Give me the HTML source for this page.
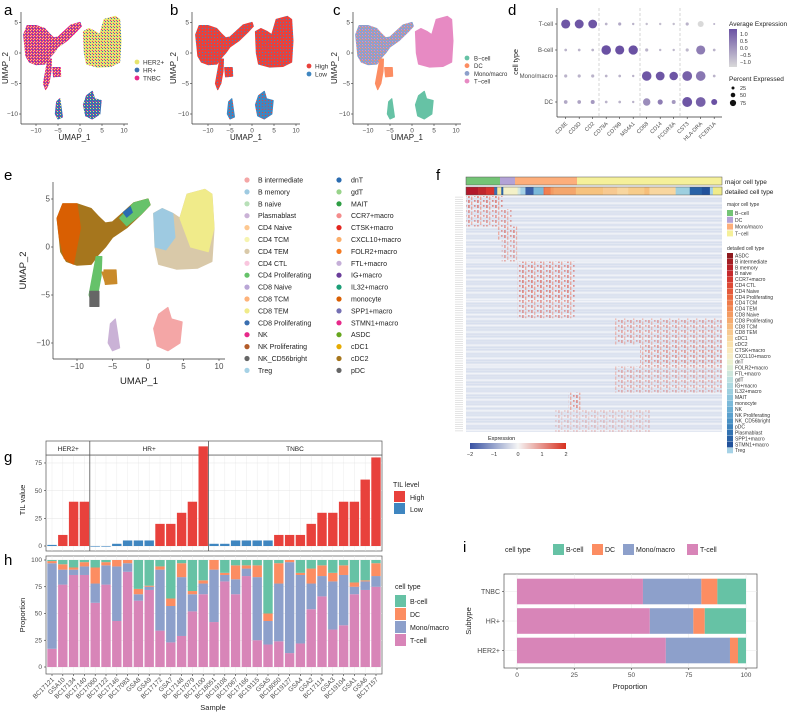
<!DOCTYPE html>
<html><head><meta charset="utf-8"><style>
html,body{margin:0;padding:0;background:#fff;}
svg{display:block;font-family:"Liberation Sans",Arial,sans-serif;}
</style></head><body>
<svg id="fig" width="790" height="716" viewBox="0 0 790 716" xmlns="http://www.w3.org/2000/svg">
<defs>
<pattern id="pA1" width="3" height="3" patternUnits="userSpaceOnUse"><rect width="3" height="3" fill="#e7298a"/><rect x="0" y="0" width="1" height="1" fill="#e6e46e"/><rect x="2" y="1" width="1" height="1" fill="#3a6fb0"/><rect x="1" y="2" width="1" height="1" fill="#e6e46e"/></pattern>
<pattern id="pA2" width="3" height="3" patternUnits="userSpaceOnUse"><rect width="3" height="3" fill="#e6e46e"/><rect x="0" y="0" width="1" height="1" fill="#3a6fb0"/><rect x="2" y="2" width="1" height="1" fill="#e7298a"/></pattern>
<pattern id="pA3" width="3" height="3" patternUnits="userSpaceOnUse"><rect width="3" height="3" fill="#3a6fb0"/><rect x="0" y="0" width="1" height="1" fill="#e6e46e"/><rect x="2" y="2" width="1" height="1" fill="#e7298a"/></pattern>
<pattern id="pB1" width="3" height="3" patternUnits="userSpaceOnUse"><rect width="3" height="3" fill="#e8413c"/><rect x="1" y="1" width="1" height="1" fill="#3f86c0"/></pattern>
<pattern id="pB2" width="3" height="3" patternUnits="userSpaceOnUse"><rect width="3" height="3" fill="#3f86c0"/><rect x="1" y="1" width="1" height="1" fill="#e8413c"/></pattern>
<pattern id="pC1" width="3" height="3" patternUnits="userSpaceOnUse"><rect width="3" height="3" fill="#8da0cb"/><rect x="0" y="0" width="1" height="1" fill="#fc8d62"/><rect x="2" y="2" width="1" height="1" fill="#e78ac3"/></pattern>
<pattern id="hmRed" width="9" height="5" patternUnits="userSpaceOnUse"><rect x="0.5" y="0" width="0.9" height="3" fill="#d7301f"/><rect x="3.5" y="1.5" width="0.7" height="3.5" fill="#ef6548"/><rect x="6.5" y="0" width="0.8" height="1.8" fill="#d7301f"/></pattern>
<linearGradient id="gradAvg" x1="0" y1="1" x2="0" y2="0"><stop offset="0" stop-color="#d9d9d9"/><stop offset="1" stop-color="#6a51a3"/></linearGradient>
<linearGradient id="gradExp" x1="0" y1="0" x2="1" y2="0"><stop offset="0" stop-color="#3953a4"/><stop offset="0.5" stop-color="#f5f5f5"/><stop offset="1" stop-color="#d7301f"/></linearGradient>
</defs>
</svg>
<script>
// ---------------- DATA ----------------
const samples = ["BC17121","GSA10","BC17134","BC17140","BC17060","BC17122","BC17146","BC17083","GSA8","GSA9","BC17172","GSA7","BC17148","BC17079","BC17100","BC18051","BC19108","BC17067","BC17166","BC19115","GSA5","BC18050","BC19127","GSA4","GSA2","BC17114","GSA3","BC19104","GSA1","GSA6","BC17157"];
const tilValues = [1,10,40,40, 0,0,2,5,5,5,20,20,30,40,90, 2,2,5,5,5,5,10,10,10,20,30,30,40,40,60,80];
const tilLevel = ["Low","High","High","High","Low","Low","Low","Low","Low","Low","High","High","High","High","High","Low","Low","Low","Low","Low","Low","High","High","High","High","High","High","High","High","High","High"];
const subtypeGroups = ["HER2+","HR+","TNBC"];
const subtypeCounts = [4,11,16];
const tilTicks = [0,25,50,75];
const propTCell = [17,77,86,86,60,77,43,89,62,72,34,23,29,52,68,42,80,68,85,25,21,24,13,22,54,66,35,39,68,72,75];
const propMono  = [80,14,5,8,18,18,51,8,6,3,57,34,55,16,10,49,6,14,7,59,22,54,85,64,24,19,45,47,7,8,10];
const propDC    = [2,5,2,4,15,3,6,3,5,1,3,7,13,3,3,9,2,13,3,11,7,19,2,2,14,10,8,9,4,1,12];
const propBCell = [1,4,7,2,7,2,0,0,27,24,6,36,3,29,19,0,12,5,5,5,50,3,0,12,8,5,12,5,21,19,3];
const propTicks = [0,25,50,75,100];
const subtypeNames = ["TNBC","HR+","HER2+"];
const subT = [55,58,65];
const subMono = [25.5,19,28];
const subDC = [7,5,3.5];
const subB = [12.5,18,3.5];
const dotGenes = ["CD3E","CD3D","CD2","CD79A","CD79B","MS4A1","CD68","CD14","FCGR3A","CST3","HLA-DRA","FCER1A"];
const dotTypes = ["T-cell","B-cell","Mono/macro","DC"];
const dotPctT = [80,78,75,3,5,2,2,2,2,5,30,1];
const dotPctB = [3,3,3,90,80,85,5,2,2,5,80,3];
const dotPctM = [5,5,5,3,3,2,90,75,70,95,92,3];
const dotPctD = [8,8,10,3,3,2,50,20,10,98,95,30];
const dotAvgT = [1.2,1.2,1.2,-0.5,-0.3,-0.5,-0.7,-0.7,-0.7,-0.5,-1.2,-0.5];
const dotAvgB = [-0.5,-0.5,-0.5,1.3,1.3,1.3,-0.5,-0.6,-0.6,-0.6,0.5,-0.5];
const dotAvgM = [-0.5,-0.5,-0.5,-0.5,-0.5,-0.5,1.2,1.2,1.2,1.0,0.6,-0.5];
const dotAvgD = [-0.3,-0.2,0,-0.5,-0.5,-0.5,0.2,0.5,0,1.2,1.0,1.3];
const eNames1 = ["B intermediate","B memory","B naive","Plasmablast","CD4 Naive","CD4 TCM","CD4 TEM","CD4 CTL","CD4 Proliferating","CD8 Naive","CD8 TCM","CD8 TEM","CD8 Proliferating","NK","NK Proliferating","NK_CD56bright","Treg"];
const eCols1 = ["#f4a6a6","#9ecae1","#b8e0b8","#cab2d6","#fdc891","#f6f4b0","#d9c9a9","#f9c6de","#66c26a","#b9a6d6","#fdb27a","#f0eb8a","#3a6fb0","#e7298a","#b35c2a","#666666","#a6d2e6"];
const eNames2 = ["dnT","gdT","MAIT","CCR7+macro","CTSK+macro","CXCL10+macro","FOLR2+macro","FTL+macro","IG+macro","IL32+macro","monocyte","SPP1+macro","STMN1+macro","ASDC","cDC1","cDC2","pDC"];
const eCols2 = ["#2b6cb0","#98d38a","#2e9e44","#f48c8c","#e3261f","#fbad6a","#f47a22","#c5afd8","#6a3d9a","#1b9e77","#d95f02","#7570b3","#e7298a","#66a61e","#e6ab02","#a6761d","#666666"];
const majorNames = ["B\u2212cell","DC","Mono/macro","T\u2212cell"];
const majorCols = ["#74c476","#b3a2d6","#fdae7b","#f5f09a"];
const majorWidths = [34,15,62,145];
const detNames = ["ASDC","B intermediate","B memory","B naive","CCR7+macro","CD4 CTL","CD4 Naive","CD4 Proliferating","CD4 TCM","CD4 TEM","CD8 Naive","CD8 Proliferating","CD8 TCM","CD8 TEM","cDC1","cDC2","CTSK+macro","CXCL10+macro","dnT","FOLR2+macro","FTL+macro","gdT","IG+macro","IL32+macro","MAIT","monocyte","NK","NK Proliferating","NK_CD56bright","pDC","Plasmablast","SPP1+macro","STMN1+macro","Treg"];
const detCols = ["#8e1a1f","#a51e24","#b8232a","#c62a2d","#d43a32","#dd4a36","#e45a3c","#ea6a42","#ee7b4a","#f18b55","#f39b62","#f5ab70","#f6bb80","#f7c991","#f8d69f","#f9e1ae","#f9e9bc","#f5edc8","#eaf0d0","#dcecd6","#cde6dc","#bde0e0","#add8e0","#9dcfdf","#8cc5dd","#7bb9d9","#6aaed4","#5aa0cd","#4b92c5","#3e83bc","#3373b2","#2a63a7","#22529b","#a6d2e6"];
const detWidths = [12,8,8,3,4,2,14,1,2,5,8,10,1,6,3,22,27,14,11,16,5,26,14,12,8,3,9];
const detBarCols = ["#b2182b","#c0272d","#d6332f","#3a6fb0","#f6e8a0","#2a63a7","#f4f1c8","#dcecd6","#cfe6e6","#a6d2e6","#3a5fa8","#7bb9d9","#ef6548","#f1804f","#f39b62","#f4a66c","#f6c27e","#f7c991","#f8d69f","#f7cc8a","#f6be7a","#f8d69f","#9dcfdf","#2a63a7","#22529b","#a6d2e6","#f0eb8a"];
const hmBlockRows = [6,8,6,10,8,10,8,12,10,12,8,10];
const hmBlockStart = [0,0,0.12,0.14,0.2,0.2,0.2,0.58,0.68,0.58,0.4,0.35];
const hmBlockEnd   = [0.15,0.18,0.2,0.2,0.43,0.43,0.43,1.0,1.0,1.0,0.45,0.72];
const hmBlockStrength = [1,0.8,0.9,0.7,0.9,1,0.8,0.7,0.8,0.6,0.9,0.4];

// ---------------- HELPERS ----------------
const NS = "http://www.w3.org/2000/svg";
const svg = document.getElementById("fig");
function mk(tag, attrs, parent){ const e = document.createElementNS(NS, tag); for (const k in attrs) e.setAttribute(k, attrs[k]); (parent||svg).appendChild(e); return e; }
function tx(x, y, s, size, anchor, fill, rot, parent){
  const t = mk("text", {x:x, y:y, "font-size":size, "text-anchor":anchor||"start", fill:fill||"#4d4d4d"}, parent);
  if (rot) t.setAttribute("transform", "rotate(" + rot + " " + x + " " + y + ")");
  t.textContent = s; return t;
}
function grp(name){ const g = mk("g", {});   return g; }
function line(x1,y1,x2,y2,stroke,w,parent,dash){ const l = mk("line",{x1:x1,y1:y1,x2:x2,y2:y2,stroke:stroke,"stroke-width":w||0.6},parent); if(dash) l.setAttribute("stroke-dasharray",dash); return l; }

const letters = [["a",4,15],["b",170,15],["c",333,15],["d",508,15],["e",4,180],["f",436,180],["g",4,462],["h",4,565],["i",463,552]];
letters.forEach(L => {
  const t = tx(L[1], L[2], L[0], 15, "start", "#000");
  
  
});

// ---------------- UMAP ----------------
const shapeLeft = [[-12.5,1],[-12.8,3],[-12,4.5],[-10,4.5],[-8,4],[-7,3.2],[-6,2.5],[-5,2.6],[-3.5,3.6],[-2,4.6],[0,5],[0.3,4.4],[-1,3.4],[-3,2],[-5,1],[-6,0],[-7,-0.8],[-8,-1.8],[-10,-1.9],[-11.5,-1.5],[-12.3,-0.5]];
const shapeTail = [[-7.3,-1],[-6.5,-1],[-6.6,-3],[-7.1,-5],[-7.8,-6],[-8.3,-5],[-7.8,-3]];
const shapeSmall = [[-6.2,-2.4],[-4.5,-2.4],[-4.4,-3.8],[-6,-3.9]];
const shapeRight = [[0.8,3.5],[1,0],[1.5,-1.8],[4,-2.3],[7,-2.2],[9,-1.5],[9.3,2],[9,5.5],[8,6],[5.5,5.5],[4.5,3],[3.5,3.5],[2,4]];
const shapeSB = [[-5.3,-8],[-4.6,-7.5],[-4.3,-9],[-4,-10.5],[-5,-10.8],[-5.6,-10]];
const shapeBot = [[1.5,-7],[2.8,-6.3],[3.3,-7.5],[4.8,-7.8],[4.5,-10],[2.8,-10.8],[1.3,-10.3],[0.8,-8.5]];
const shapes = [shapeLeft, shapeTail, shapeSmall, shapeRight, shapeSB, shapeBot];
const shapeNames = ["left-cluster","tail-cluster","small-cluster","right-cluster","small-bottom-cluster","bottom-cluster"];

function umap(g, x0, y0, sx, sy, axL, axR, axT, axB, fills, fs, titleY, ytitleX){
  const X = v => x0 + v*sx, Y = v => y0 - v*sy;
  shapes.forEach((s,i) => {
    const p = mk("polygon", {points: s.map(q => X(q[0]).toFixed(1)+","+Y(q[1]).toFixed(1)).join(" "), fill: fills[i], stroke: fills[i], "stroke-width": 1.2, "stroke-linejoin":"round"}, g);
    
    
  });
  line(axL, axT, axL, axB, "#333", 0.7, g); line(axL, axB, axR, axB, "#333", 0.7, g);
  [-10,-5,0,5,10].forEach(v => { line(X(v), axB, X(v), axB+2, "#333", 0.6, g); tx(X(v), axB+fs+2, (v<0?"\u2212":"")+Math.abs(v), fs, "middle", "#4d4d4d", 0, g); });
  [5,0,-5,-10].forEach(v => { line(axL-2, Y(v), axL, Y(v), "#333", 0.6, g); tx(axL-3, Y(v)+fs/3, (v<0?"\u2212":"")+Math.abs(v), fs, "end", "#4d4d4d", 0, g); });
  const t1 = tx((axL+axR)/2, titleY, "UMAP_1", fs+1.5, "middle", "#222", 0, g);
  
  
  const t2 = tx(ytitleX, (axT+axB)/2, "UMAP_2", fs+1.5, "middle", "#222", -90, g);
  
  
}
const gA = grp("umap-subtype-panel");
umap(gA, 80, 53, 4.4, 6.1, 21, 128, 12, 124, ["url(#pA1)","url(#pA1)","url(#pA1)","url(#pA2)","url(#pA3)","url(#pA3)"], 6.5, 140, 8);
[["HER2+","#e6e46e"],["HR+","#3a6fb0"],["TNBC","#e7298a"]].forEach((L,i) => {
  mk("circle",{cx:137,cy:62+i*8,r:2.4,fill:L[1]},gA); tx(143,64.5+i*8,L[0],6.5,"start","#333",0,gA);
});
const gB = grp("umap-til-panel");
umap(gB, 252, 53, 4.4, 6.1, 192, 300, 12, 124, ["url(#pB1)","url(#pB1)","url(#pB1)","url(#pB1)","url(#pB2)","url(#pB2)"], 6.5, 140, 176);
[["High","#e8413c"],["Low","#3f86c0"]].forEach((L,i) => {
  mk("circle",{cx:309,cy:66+i*8,r:2.4,fill:L[1]},gB); tx(315,68.5+i*8,L[0],6.5,"start","#333",0,gB);
});
const gC = grp("umap-major-celltype-panel");
umap(gC, 412, 53, 4.4, 6.1, 353, 461, 12, 124, ["url(#pC1)","#fc8d62","#fc8d62","#e78ac3","#66c2a5","#66c2a5"], 6.5, 140, 337);
majorNames.forEach((n,i) => {
  mk("circle",{cx:467,cy:58+i*7.7,r:2.4,fill:["#66c2a5","#fc8d62","#8da0cb","#e78ac3"][i]},gC); tx(474,60.5+i*7.7,n,6,"start","#333",0,gC);
});

// ---------------- DOT PLOT (d) ----------------
const gD = grp("dotplot-panel");
const dx0 = 565.7, dstep = 13.5, dRows = [24,50,76,102];
const DX = i => dx0 + i*dstep;
line(557,8,557,117,"#333",0.7,gD); line(557,117,722,117,"#333",0.7,gD);
[599,640,680].forEach(x => line(x,8,x,117,"#bbb",0.6,gD,"3,2"));
const pctRows = [dotPctT,dotPctB,dotPctM,dotPctD], avgRows = [dotAvgT,dotAvgB,dotAvgM,dotAvgD];
function avgCol(v){ const t = Math.max(0, Math.min(1, (v+1.2)/2.5)); const a=[217,217,217], b=[106,81,163]; return "rgb("+a.map((c,k)=>Math.round(c+(b[k]-c)*t)).join(",")+")"; }
dotTypes.forEach((ct,r) => {
  tx(553, dRows[r]+2.2, ct, 6, "end", "#4d4d4d", 0, gD); line(555,dRows[r],557,dRows[r],"#333",0.6,gD);
  dotGenes.forEach((gname,c) => {
    const d = mk("circle",{cx:DX(c),cy:dRows[r],r:(0.6+Math.sqrt(pctRows[r][c]/100)*4.4).toFixed(2),fill:avgCol(avgRows[r][c])},gD);
    
    
  });
});
dotGenes.forEach((gname,c) => { line(DX(c),117,DX(c),119,"#333",0.6,gD); tx(DX(c)+2, 124, gname, 5.5, "end", "#4d4d4d", -45, gD); });
tx(518, 62, "cell type", 7, "middle", "#222", -90, gD);
tx(729, 26, "Average Expression", 6.5, "start", "#222", 0, gD);
mk("rect",{x:729,y:29,width:8,height:38,fill:"url(#gradAvg)"},gD);
[["1.0",36],["0.5",43],["0.0",50],["\u22120.5",57],["\u22121.0",64]].forEach(L => tx(740, L[1], L[0], 5.5, "start", "#333", 0, gD));
tx(729, 81, "Percent Expressed", 6.5, "start", "#222", 0, gD);
[["25",88,1.5],["50",95,2.3],["75",103,3.1]].forEach(L => { mk("circle",{cx:733,cy:L[1],r:L[2],fill:"#111"},gD); tx(740, L[1]+2, L[0], 5.5, "start", "#333", 0, gD); });

// ---------------- UMAP detailed (e) ----------------
const gE = grp("umap-detailed-celltype-panel");
umap(gE, 148, 247, 7.1, 9.6, 53, 225, 182, 359, ["#a6761d","#66c26a","#c98a2a","#d9c9a9","#cab2d6","#f4a6a6"], 8, 384, 26);
{ const X = v => 148 + v*7.1, Y = v => 247 - v*9.6;
  const extras = [
    {pts:[[-12.5,1],[-12.8,3],[-12,4.5],[-10,4.5],[-9.5,2],[-10.5,-1.8],[-11.8,-1.2]], c:"#d95f02"},
    {pts:[[-4,3],[-2,4.6],[0,5],[0.3,4.4],[-1,3.4],[-3,2.2]], c:"#66c26a"},
    {pts:[[-3.5,3.6],[-2.5,4.2],[-2.2,3.6],[-3,3.1]], c:"#2b6cb0"},
    {pts:[[5.5,5.5],[8,6],[9,5.5],[9.3,2],[8.5,-0.5],[6,0],[4.5,3]], c:"#f0eb8a"},
    {pts:[[0.8,3.5],[2,4],[3.5,3.5],[3.8,1],[2.5,-0.3],[1,0]], c:"#9ecae1"},
    {pts:[[-8.2,-4.6],[-6.9,-4.6],[-6.9,-6.2],[-8.2,-6.2]], c:"#666666"},
    {pts:[[-6.5,-2.6],[-5,-2.6],[-4.6,-3.7],[-6,-3.8]], c:"#c98a2a"}
  ];
  extras.forEach(e => { const p = mk("polygon",{points:e.pts.map(q=>X(q[0]).toFixed(1)+","+Y(q[1]).toFixed(1)).join(" "),fill:e.c,stroke:e.c,"stroke-width":1,"stroke-linejoin":"round"},gE);
    
     });
}
eNames1.forEach((n,i) => { mk("circle",{cx:247,cy:180+i*11.9,r:2.6,fill:eCols1[i]},gE); tx(258,182.5+i*11.9,n,7,"start","#222",0,gE); });
eNames2.forEach((n,i) => { mk("circle",{cx:339,cy:180+i*11.9,r:2.6,fill:eCols2[i]},gE); tx(351,182.5+i*11.9,n,7,"start","#222",0,gE); });

// ---------------- HEATMAP (f) ----------------
const gF = grp("heatmap-panel");
const hx0 = 466, hx1 = 722, hy0 = 196, hy1 = 432;
let cx = hx0;
majorWidths.forEach((w,i) => { const r = mk("rect",{x:cx,y:177,width:w,height:8,fill:majorCols[i]},gF);
  
   cx += w; });
mk("rect",{x:hx0,y:177,width:hx1-hx0,height:8,fill:"none",stroke:"#555","stroke-width":0.5},gF);
const detTotal = detWidths.reduce((a,b)=>a+b,0);
cx = hx0;
detWidths.forEach((w,i) => { const ww = w/detTotal*(hx1-hx0); mk("rect",{x:cx,y:187,width:ww+0.3,height:8,fill:detBarCols[i]},gF); cx += ww; });
mk("rect",{x:hx0,y:187,width:hx1-hx0,height:8,fill:"none",stroke:"#555","stroke-width":0.5},gF);
tx(725,184,"major cell type",6.5,"start","#222",0,gF); tx(725,194,"detailed cell type",6.5,"start","#222",0,gF);
const totalRows = hmBlockRows.reduce((a,b)=>a+b,0);
const rowH = (hy1-hy0)/totalRows;
let ry = hy0;
mk("rect",{x:hx0,y:hy0,width:hx1-hx0,height:hy1-hy0,fill:"#e3e8f2"},gF);
hmBlockRows.forEach((n,b) => {
  for (let k=0;k<n;k++){ const y = ry + k*rowH;
    mk("rect",{x:hx0,y:y,width:hx1-hx0,height:rowH*0.55,fill:(k%3===0)?"#f4f5f9":"#d4dcec",opacity:0.8},gF);
    line(455, y+rowH/2, 463, y+rowH/2, "#bbb", 0.4, gF);
  }
  const r = mk("rect",{x:hx0+hmBlockStart[b]*(hx1-hx0), y:ry, width:(hmBlockEnd[b]-hmBlockStart[b])*(hx1-hx0), height:n*rowH, fill:"url(#hmRed)", opacity:hmBlockStrength[b]},gF);
  
  
  ry += n*rowH;
});
tx(727,206,"major cell type",5,"start","#333",0,gF);
majorNames.forEach((n,i) => { mk("rect",{x:727,y:210+i*6.8,width:6,height:6,fill:majorCols[i]},gF); tx(735,215+i*6.8,n,5,"start","#333",0,gF); });
tx(727,250,"detailed cell type",5,"start","#333",0,gF);
detNames.forEach((n,i) => { mk("rect",{x:727,y:253+i*5.9,width:6,height:5.6,fill:detCols[i]},gF); tx(735,257.5+i*5.9,n,5,"start","#333",0,gF); });
tx(488,440,"Expression",5.5,"start","#222",0,gF);
mk("rect",{x:470,y:443,width:96,height:6,fill:"url(#gradExp)"},gF);
[["\u22122",470],["\u22121",494],["0",518],["1",542],["2",566]].forEach(L => tx(L[1],456,L[0],5.5,"middle","#333",0,gF));

// ---------------- TIL BAR (g) ----------------
const gG = grp("til-bar-panel");
const gx0 = 52, gstep = 10.8, bw = 9.4;
const GX = i => gx0 + i*gstep;
const GY = v => 546 - v*1.107;
mk("rect",{x:46,y:455,width:336,height:96,fill:"#fff",stroke:"#555","stroke-width":0.7},gG);
samples.forEach((s,i) => line(GX(i),455,GX(i),551,"#ececec",0.5,gG));
tilTicks.forEach(v => { line(46,GY(v),382,GY(v),"#e4e4e4",0.5,gG); line(44,GY(v),46,GY(v),"#333",0.6,gG); tx(42,GY(v)+2.2,String(v),6.5,"end","#4d4d4d",0,gG); });
mk("rect",{x:46,y:441,width:336,height:14,fill:"#fff",stroke:"#555","stroke-width":0.7},gG);
let acc = 0;
subtypeGroups.forEach((s,k) => {
  const a = acc, b = acc + subtypeCounts[k] - 1;
  const xm = (GX(a)+GX(b))/2;
  tx(xm, 451, s, 6.5, "middle", "#222", 0, gG);
  if (k>0){ const xl = GX(a)-gstep/2; line(xl,441,xl,551,"#555",0.8,gG); }
  acc += subtypeCounts[k];
});
tilValues.forEach((v,i) => {
  const r = mk("rect",{x:GX(i)-bw/2,y:GY(v),width:bw,height:Math.max(0.6,GY(0)-GY(v)),fill:tilLevel[i]==="High"?"#e8413c":"#3f86c0"},gG);
  
  
});
tx(25,500,"TIL value",7.5,"middle","#222",-90,gG);
tx(393,487,"TIL level",7,"start","#222",0,gG);
mk("rect",{x:394,y:491,width:11,height:11,fill:"#e8413c"},gG); tx(410,500,"High",7,"start","#222",0,gG);
mk("rect",{x:394,y:503,width:11,height:11,fill:"#3f86c0"},gG); tx(410,512,"Low",7,"start","#222",0,gG);

// ---------------- PROPORTION BAR (h) ----------------
const gH = grp("proportion-bar-panel");
const HY = v => 667 - v*1.07;
mk("rect",{x:46,y:556,width:336,height:118,fill:"#fff",stroke:"#555","stroke-width":0.7},gH);
samples.forEach((s,i) => line(GX(i),556,GX(i),674,"#ececec",0.5,gH));
propTicks.forEach(v => { line(46,HY(v),382,HY(v),"#e4e4e4",0.5,gH); line(44,HY(v),46,HY(v),"#333",0.6,gH); tx(42,HY(v)+2.2,String(v),6.5,"end","#4d4d4d",0,gH); });
const stackSeries = [propTCell, propMono, propDC, propBCell];
const stackCols = ["#d885b8","#8da0cb","#fc8d62","#66c2a5"];
const stackNames = ["T-cell","Mono-macro","DC","B-cell"];
samples.forEach((s,i) => {
  let base = 0;
  const tot = propTCell[i]+propMono[i]+propDC[i]+propBCell[i];
  stackSeries.forEach((ser,k) => {
    const v = ser[i]*100/tot;
    const r = mk("rect",{x:GX(i)-bw/2,y:HY(base+v),width:bw,height:HY(base)-HY(base+v),fill:stackCols[k]},gH);
    
    
    base += v;
  });
  line(GX(i),674,GX(i),676,"#333",0.6,gH);
  tx(GX(i)+2.5, 680, s, 6.5, "end", "#4d4d4d", -45, gH);
});
tx(25,615,"Proportion",7.5,"middle","#222",-90,gH);
tx(213,710,"Sample",7.5,"middle","#222",0,gH);
tx(395,589,"cell type",7,"start","#222",0,gH);
["B-cell","DC","Mono/macro","T-cell"].forEach((n,i) => { mk("rect",{x:395,y:595+i*13,width:11,height:12,fill:["#66c2a5","#fc8d62","#8da0cb","#d885b8"][i]},gH); tx(410,604+i*13,n,7,"start","#222",0,gH); });

// ---------------- SUBTYPE BAR (i) ----------------
const gI = grp("subtype-proportion-panel");
const IX = v => 517 + v*2.29;
const iRows = [591.5,621,650.5];
mk("rect",{x:504,y:574,width:253,height:94,fill:"#fff",stroke:"#555","stroke-width":0.7},gI);
[0,25,50,75,100].forEach(v => { line(IX(v),574,IX(v),668,"#e8e8e8",0.5,gI); line(IX(v),668,IX(v),670,"#333",0.6,gI); tx(IX(v),677,String(v),6.5,"middle","#4d4d4d",0,gI); });
iRows.forEach(y => line(504,y,757,y,"#e8e8e8",0.5,gI));
const subSeries = [subT, subMono, subDC, subB];
subtypeNames.forEach((n,r) => {
  let base = 0;
  subSeries.forEach((ser,k) => {
    const v = ser[r];
    const rr = mk("rect",{x:IX(base),y:iRows[r]-12.8,width:IX(base+v)-IX(base),height:25.6,fill:stackCols[k]},gI);
    
    
    base += v;
  });
  line(502,iRows[r],504,iRows[r],"#333",0.6,gI);
  tx(500,iRows[r]+2.5,n,7,"end","#4d4d4d",0,gI);
});
tx(471,621,"Subtype",7.5,"middle","#222",-90,gI);
tx(630,689,"Proportion",7.5,"middle","#222",0,gI);
tx(505,552,"cell type",7,"start","#222",0,gI);
[["B-cell",566,"#66c2a5"],["DC",605,"#fc8d62"],["Mono/macro",636,"#8da0cb"],["T-cell",700,"#d885b8"]].forEach(L => { mk("rect",{x:L[1]-13,y:544,width:11,height:11,fill:L[2]},gI); tx(L[1],552,L[0],7,"start","#222",0,gI); });
</script>
</body></html>
